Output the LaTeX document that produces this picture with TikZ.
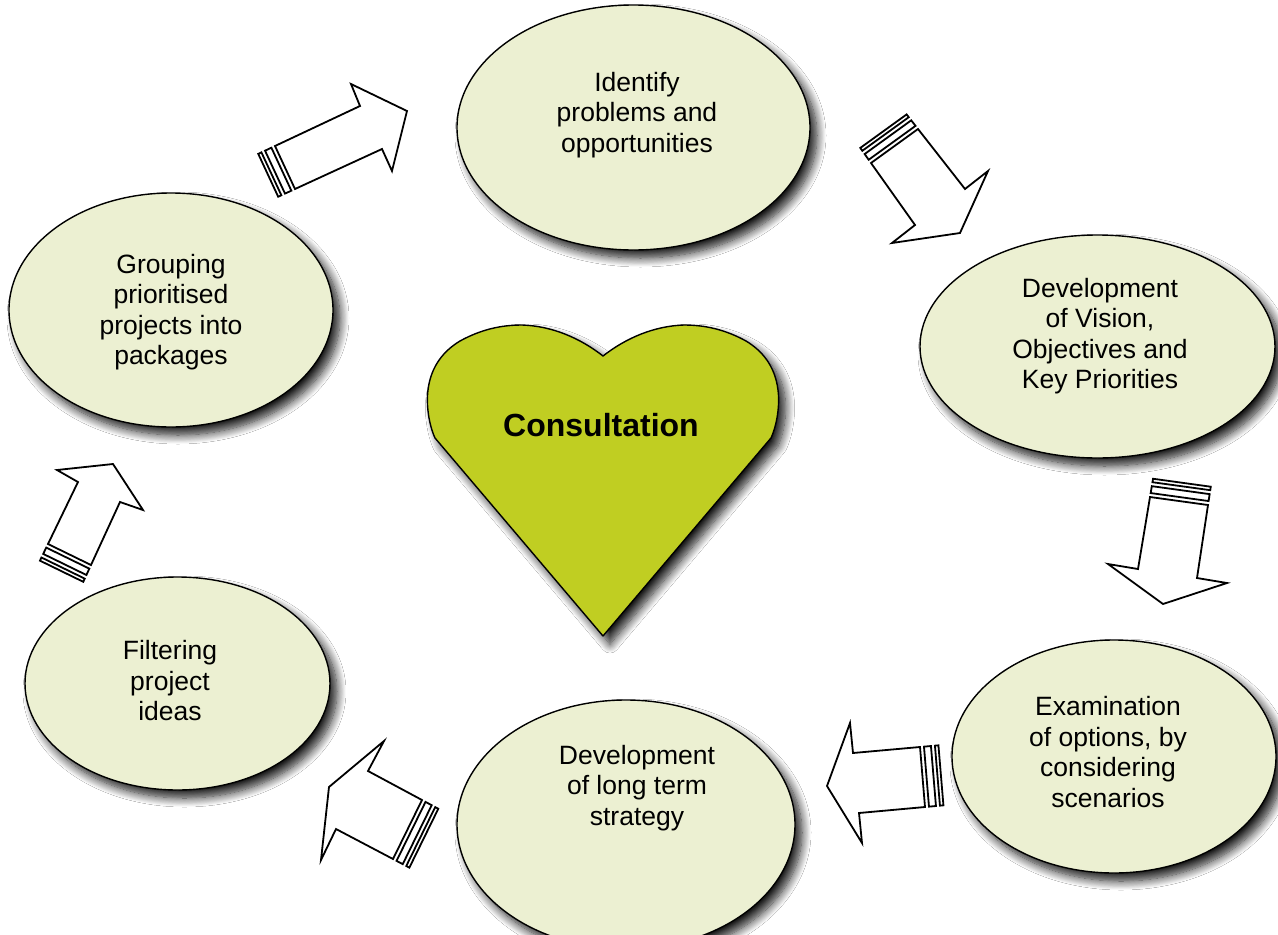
\documentclass[tikz,border=0pt]{standalone}
\usepackage{fontspec}
\setmainfont{Liberation Sans}
\usetikzlibrary{shapes.geometric,shadows.blur,calc}

\definecolor{stagefill}{RGB}{236,240,210}
\definecolor{heartfill}{RGB}{192,206,34}

\tikzset{
  softshadow/.style={blur shadow={shadow xshift=7pt, shadow yshift=-8pt,
      shadow blur radius=9pt, shadow opacity=90, shadow blur steps=12}},
  stage/.style={ellipse, draw=black, line width=1.4pt, fill=stagefill,
      inner sep=0pt, softshadow},
  stagetext/.style={align=center, font=\fontsize{26.5}{30.5}\selectfont, inner sep=0pt},
  heartshape/.style={draw=black, line width=1.4pt, fill=heartfill,
      line join=round, softshadow},
  arrowline/.style={draw=black, line width=1.8pt, fill=white, line join=miter},
}

% block arrow with two bands behind its tail:
% #1 tail corner, #2 notch, #3 barb, #4 tip, #5 barb, #6 notch, #7 tail corner
\newcommand\bandedarrow[7]{%
  \begin{scope}
    \coordinate (ta) at (#1); \coordinate (na) at (#2); \coordinate (ba) at (#3);
    \coordinate (tp) at (#4);
    \coordinate (bb) at (#5); \coordinate (nb) at (#6); \coordinate (tb) at (#7);
    \path[arrowline] (ta) -- (na) -- (ba) -- (tp) -- (bb) -- (nb) -- (tb) -- cycle;
    \path[arrowline] ($(ta)!-4pt!(na)$) -- ($(ta)!-11pt!(na)$)
                  -- ($(tb)!-11pt!(nb)$) -- ($(tb)!-4pt!(nb)$) -- cycle;
    \path[arrowline] ($(ta)!-15pt!(na)$) -- ($(ta)!-18.5pt!(na)$)
                  -- ($(tb)!-18.5pt!(nb)$) -- ($(tb)!-15pt!(nb)$) -- cycle;
  \end{scope}}

\begin{document}
\begin{tikzpicture}[x=1pt, y=-1pt]
  \useasboundingbox (0,0) rectangle (1278,935);
  \fill[white] (0,0) rectangle (1278,935);

  % the six stages of the cycle
  \node[stage, minimum width=353pt, minimum height=245pt] (e1) at (633.5,127.5) {};
  \node[stage, minimum width=355pt, minimum height=223pt] (e2) at (1097.5,346.5) {};
  \node[stage, minimum width=324pt, minimum height=233pt] (e3) at (1114,756.5) {};
  \node[stage, minimum width=338pt, minimum height=249pt] (e4) at (626,824.5) {};
  \node[stage, minimum width=305pt, minimum height=213pt] (e5) at (177.5,683.5) {};
  \node[stage, minimum width=324pt, minimum height=234pt] (e6) at (171,310) {};

  \node[stagetext] (t1) at (637,115) {Identify\\problems and\\opportunities};
  \node[stagetext] (t2) at (1100,336) {Development\\of Vision,\\Objectives and\\Key Priorities};
  \node[stagetext] (t3) at (1108,752) {Examination\\of options, by\\considering\\scenarios};
  \node[stagetext] (t4) at (637,788) {Development\\of long term\\strategy};
  \node[stagetext] (t5) at (170,681) {Filtering\\project\\ideas};
  \node[stagetext] (t6) at (171,312) {Grouping\\prioritised\\projects into\\packages};

  % central heart
  \path[heartshape] (603,636) -- (435,438)
     .. controls (429,425) and (426,405) .. (428,390)
     .. controls (431,365) and (445,350) .. (460,341)
     .. controls (480,330) and (500,325) .. (522,325)
     .. controls (552,326) and (580,338) .. (603,356)
     .. controls (626,338) and (654,326) .. (684,325)
     .. controls (706,325) and (726,330) .. (746,341)
     .. controls (761,350) and (775,365) .. (778,390)
     .. controls (780,405) and (777,425) .. (771,438)
     -- cycle;
  \node[font=\bfseries\fontsize{32}{36}\selectfont, inner sep=0pt] (consult) at (601,425) {Consultation};

  % block arrows between the stages
  \bandedarrow{275,146}{360,106}{351,84}{407,111}{392,171}{382,149}{295,189}
  \bandedarrow{918,129}{965,189}{988,171}{960,233}{892,243}{915,225}{871,163}
  \bandedarrow{1150,497}{1138,569}{1108,564}{1163,604}{1227,583}{1197,578}{1208,505}
  \bandedarrow{920,747}{853,753}{850,723}{827,786}{862,843}{859,813}{925,807}
  \bandedarrow{422,800}{368,771}{384,741}{329,787}{321,860}{336,829}{393,859}
  \bandedarrow{91,565}{120,502}{143,510}{113,464}{57,470}{78,482}{48,544}
\end{tikzpicture}
\end{document}
